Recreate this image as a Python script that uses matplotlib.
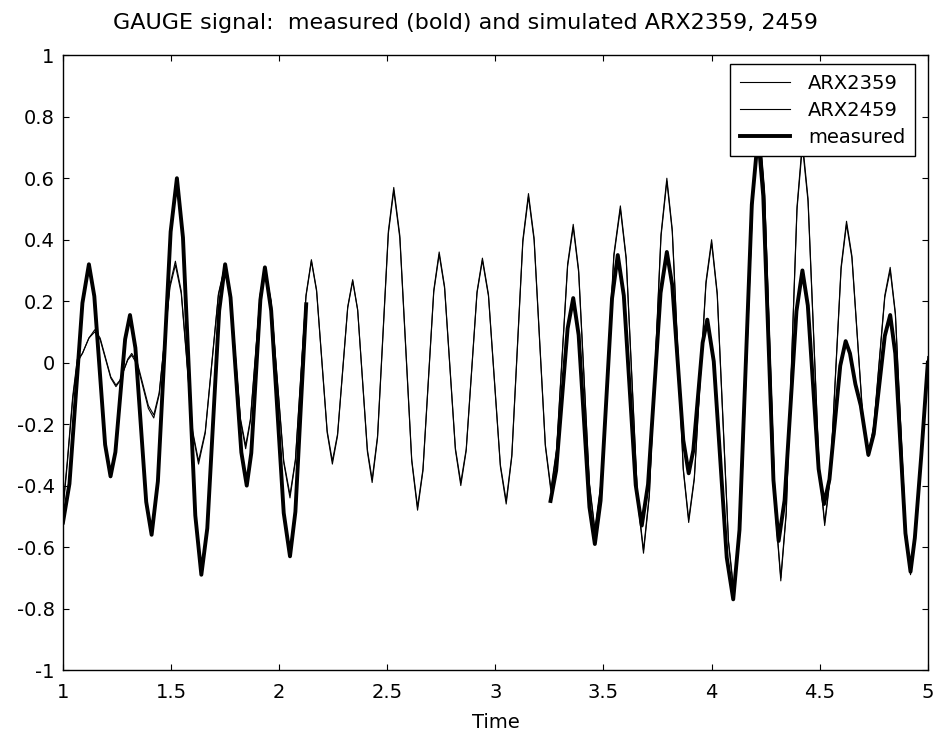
import numpy as np
import matplotlib
matplotlib.use("Agg")
import matplotlib.pyplot as plt
from matplotlib.ticker import FuncFormatter

plt.rcParams['font.family'] = ['DejaVu Sans']

# simulated outputs (extrema + a couple of points per flank)
t_arx = [1.000, 1.020, 1.045, 1.066, 1.090, 1.120, 1.147,
         1.172, 1.221, 1.245,
         1.263, 1.300, 1.318,
         1.344, 1.395, 1.420,
         1.445, 1.495, 1.520,
         1.547, 1.600, 1.627,
         1.658, 1.719, 1.750,
         1.774, 1.821, 1.845,
         1.867, 1.912, 1.934,
         1.963, 2.021, 2.050,
         2.075, 2.124, 2.149,
         2.173, 2.222, 2.246,
         2.270, 2.317, 2.340,
         2.363, 2.408, 2.430,
         2.455, 2.505, 2.530,
         2.558, 2.613, 2.640,
         2.665, 2.715, 2.740,
         2.765, 2.815, 2.840,
         2.865, 2.915, 2.940,
         2.968, 3.023, 3.050,
         3.076, 3.127, 3.153,
         3.179, 3.231, 3.257,
         3.283, 3.334, 3.360,
         3.385, 3.435, 3.460,
         3.490, 3.548, 3.578,
         3.605, 3.658, 3.685,
         3.712, 3.766, 3.793,
         3.818, 3.869, 3.894,
         3.920, 3.974, 4.000,
         4.026, 4.078, 4.104,
         4.133, 4.191, 4.220,
         4.245, 4.295, 4.320,
         4.345, 4.395, 4.420,
         4.446, 4.497, 4.523,
         4.548, 4.599, 4.624,
         4.649, 4.700, 4.725,
         4.750, 4.801, 4.826,
         4.850, 4.897, 4.920,
         4.940, 4.970, 5.000]

arx2359 = [-0.48, -0.33, -0.12, 0.00, 0.03, 0.08, 0.107,
           0.080, -0.046, -0.073,
           -0.058, 0.009, 0.024,
           -0.007, -0.149, -0.180,
           -0.104, 0.254, 0.330,
           0.233, -0.223, -0.320,
           -0.224, 0.224, 0.320,
           0.232, -0.182, -0.270,
           -0.183, 0.223, 0.310,
           0.199, -0.319, -0.430,
           -0.315, 0.220, 0.335,
           0.237, -0.222, -0.320,
           -0.232, 0.182, 0.270,
           0.173, -0.283, -0.380,
           -0.238, 0.428, 0.570,
           0.414, -0.314, -0.470,
           -0.346, 0.236, 0.360,
           0.248, -0.278, -0.390,
           -0.281, 0.231, 0.340,
           0.222, -0.332, -0.450,
           -0.300, 0.400, 0.550,
           0.406, -0.266, -0.410,
           -0.281, 0.321, 0.450,
           0.302, -0.392, -0.540,
           -0.383, 0.353, 0.510,
           0.342, -0.442, -0.610,
           -0.428, 0.418, 0.600,
           0.434, -0.344, -0.510,
           -0.374, 0.264, 0.400,
           0.228, -0.578, -0.750,
           -0.520, 0.550, 0.780,
           0.558, -0.478, -0.700,
           -0.487, 0.507, 0.720,
           0.534, -0.334, -0.520,
           -0.373, 0.313, 0.460,
           0.347, -0.182, -0.295,
           -0.204, 0.219, 0.310,
           0.162, -0.532, -0.680,
           -0.570, -0.300, 0.020]

arx2459 = [-0.47, -0.32, -0.11, 0.01, 0.03, 0.08, 0.100,
           0.075, -0.050, -0.078,
           -0.060, 0.012, 0.030,
           0.000, -0.140, -0.170,
           -0.098, 0.245, 0.318,
           0.225, -0.230, -0.330,
           -0.230, 0.220, 0.315,
           0.228, -0.190, -0.280,
           -0.190, 0.218, 0.305,
           0.195, -0.325, -0.440,
           -0.320, 0.215, 0.330,
           0.232, -0.228, -0.330,
           -0.238, 0.178, 0.265,
           0.170, -0.290, -0.390,
           -0.245, 0.420, 0.560,
           0.405, -0.320, -0.480,
           -0.352, 0.230, 0.352,
           0.242, -0.284, -0.400,
           -0.287, 0.226, 0.333,
           0.216, -0.338, -0.460,
           -0.306, 0.392, 0.540,
           0.398, -0.272, -0.420,
           -0.287, 0.313, 0.440,
           0.294, -0.398, -0.550,
           -0.390, 0.345, 0.500,
           0.335, -0.448, -0.620,
           -0.435, 0.410, 0.590,
           0.426, -0.350, -0.520,
           -0.380, 0.256, 0.390,
           0.220, -0.585, -0.760,
           -0.528, 0.540, 0.770,
           0.550, -0.484, -0.710,
           -0.494, 0.498, 0.705,
           0.524, -0.340, -0.530,
           -0.380, 0.305, 0.450,
           0.340, -0.188, -0.305,
           -0.210, 0.212, 0.300,
           0.155, -0.538, -0.690,
           -0.580, -0.310, 0.010]

# measured gauge signal, no data between ~2.13 and ~3.25
t_meas = [1.000, 1.030, 1.090, 1.120,
          1.145, 1.195, 1.220,
          1.2425, 1.2875, 1.310,
          1.335, 1.385, 1.410,
          1.439, 1.498, 1.527,
          1.555, 1.612, 1.640,
          1.6675, 1.7225, 1.750,
          1.775, 1.825, 1.850,
          1.871, 1.913, 1.934,
          1.963, 2.021, 2.050,
          2.075, 2.100, 2.125,
          2.130,
          3.255,
          3.281, 3.334, 3.360,
          3.385, 3.435, 3.460,
          3.4865, 3.5395, 3.566,
          3.594, 3.649, 3.677,
          3.706, 3.764, 3.793,
          3.818, 3.869, 3.894,
          3.9155, 3.9585, 3.980,
          4.010, 4.070, 4.100,
          4.129, 4.186, 4.215,
          4.239, 4.286, 4.310,
          4.3375, 4.3925, 4.420,
          4.445, 4.495, 4.520,
          4.545, 4.595, 4.620,
          4.640, 4.665, 4.690, 4.725,
          4.750, 4.801, 4.826,
          4.8495, 4.8965, 4.920,
          4.940, 4.970, 5.000]

measured = [-0.52, -0.394, 0.194, 0.32,
            0.216, -0.267, -0.37,
            -0.291, 0.076, 0.155,
            0.048, -0.453, -0.56,
            -0.386, 0.426, 0.60,
            0.407, -0.497, -0.69,
            -0.539, 0.169, 0.32,
            0.212, -0.292, -0.40,
            -0.294, 0.204, 0.31,
            0.169, -0.489, -0.63,
            -0.485, -0.145, 0.19,
            np.nan,
            -0.45,
            -0.351, 0.111, 0.21,
            0.090, -0.470, -0.59,
            -0.449, 0.209, 0.35,
            0.218, -0.398, -0.53,
            -0.396, 0.227, 0.36,
            0.252, -0.252, -0.36,
            -0.285, 0.065, 0.14,
            0.004, -0.634, -0.77,
            -0.544, 0.514, 0.74,
            0.542, -0.382, -0.58,
            -0.448, 0.168, 0.30,
            0.186, -0.346, -0.46,
            -0.380, -0.010, 0.07,
            0.03, -0.07, -0.14, -0.30,
            -0.232, 0.087, 0.155,
            0.030, -0.555, -0.68,
            -0.570, -0.300, 0.00]

xticks = [1, 1.5, 2, 2.5, 3, 3.5, 4, 4.5, 5]
yticks = [-1, -0.8, -0.6, -0.4, -0.2, 0, 0.2, 0.4, 0.6, 0.8, 1]

fig = plt.figure(figsize=(9.37, 7.31), dpi=100)
ax = fig.add_axes([0.0672, 0.0834, 0.923, 0.841])

ax.plot(t_arx, arx2359, color='black', lw=0.8, label='ARX2359')
ax.plot(t_arx, arx2459, color='black', lw=0.8, label='ARX2459')
ax.plot(t_meas, measured, color='black', lw=2.8, label='measured')

ax.set_xlim(1, 5)
ax.set_ylim(-1, 1)
ax.set_xticks(xticks)
ax.set_yticks(yticks)
ax.xaxis.set_major_formatter(FuncFormatter(lambda v, p: '%g' % v))
ax.yaxis.set_major_formatter(FuncFormatter(lambda v, p: '%g' % round(v, 1)))
ax.tick_params(direction='in', top=True, right=True, length=4.5, labelsize=14)
ax.tick_params(axis='x', pad=9)
ax.tick_params(axis='y', pad=6)
for s in ax.spines.values():
    s.set_linewidth(1.0)

ax.set_xlabel('Time', fontsize=14, labelpad=8)
fig.text(0.497, 0.968, 'GAUGE signal:  measured (bold) and simulated ARX2359, 2459',
         fontsize=16, ha='center', va='center')

leg = ax.legend(loc='upper right', bbox_to_anchor=(0.985, 0.985), borderaxespad=0,
                fancybox=False, shadow=False, edgecolor='black', framealpha=1,
                fontsize=14, handlelength=2.6, handletextpad=0.9,
                labelspacing=0.4, borderpad=0.5)
leg.get_frame().set_linewidth(1.0)

fig.savefig('out.png', dpi=100)
